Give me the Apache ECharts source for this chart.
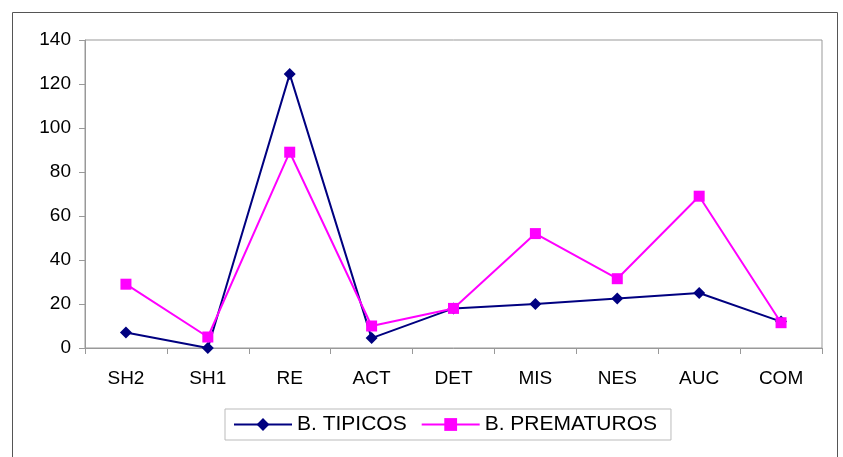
<!DOCTYPE html>
<html><head><meta charset="utf-8">
<script src="https://cdn.jsdelivr.net/npm/echarts@6/dist/echarts.min.js"></script>
<style>html,body{margin:0;padding:0;background:#fff}#c{width:843px;height:457px}</style>
</head><body><div id="c"></div>
<script>
const categories = ['SH2','SH1','RE','ACT','DET','MIS','NES','AUC','COM'];
const tipicos = [7, 0, 124.5, 4.5, 18, 20, 22.5, 25, 12];
const prematuros = [29, 5, 89, 10, 18, 52, 31.5, 69, 11.5];
const seriesNames = ['B. TIPICOS', 'B. PREMATUROS'];
const yTicks = {min: 0, max: 140, interval: 20};

const chart = echarts.init(document.getElementById('c'));
const font = 'Arial, "Liberation Sans", sans-serif';
const diamond = 'path://M0,5L5,0L10,5L5,10Z';
chart.setOption({
  animation: false,
  graphic: [{type:'rect', shape:{x:12.5,y:12.5,width:825,height:450}, style:{fill:'none', stroke:'#555', lineWidth:1}, silent:true}],
  grid: {left: 85, right: 21, top: 40, bottom: 109, show: true, borderColor: '#999', borderWidth: 1, backgroundColor: 'transparent'},
  legend: {
    top: 409, left: 225,
    data: seriesNames,
    itemWidth: 58, itemHeight: 16, itemGap: 14,
    padding: [5, 14, 5, 8],
    borderColor: '#bbb', borderWidth: 1, borderRadius: 0,
    textStyle: {fontFamily: font, fontSize: 21, color: '#000'}
  },
  xAxis: {
    type: 'category', data: categories, boundaryGap: true,
    axisLine: {lineStyle: {color: '#999'}},
    axisTick: {show: true, length: 6, lineStyle: {color: '#999'}},
    axisLabel: {fontFamily: font, fontSize: 19, color: '#000', margin: 21}
  },
  yAxis: {
    type: 'value', min: yTicks.min, max: yTicks.max, interval: yTicks.interval,
    splitLine: {show: false},
    axisLine: {show: true, lineStyle: {color: '#999'}},
    axisTick: {show: true, length: 6, lineStyle: {color: '#999'}},
    axisLabel: {fontFamily: font, fontSize: 19, color: '#000', margin: 14}
  },
  series: [
    {name: seriesNames[0], type: 'line', data: tipicos, symbol: diamond, symbolSize: 12,
     itemStyle: {color: '#000080'}, lineStyle: {color: '#000080', width: 2}},
    {name: seriesNames[1], type: 'line', data: prematuros, symbol: 'rect', symbolSize: 11,
     itemStyle: {color: '#FF00FF'}, lineStyle: {color: '#FF00FF', width: 2}}
  ]
});
</script></body></html>
